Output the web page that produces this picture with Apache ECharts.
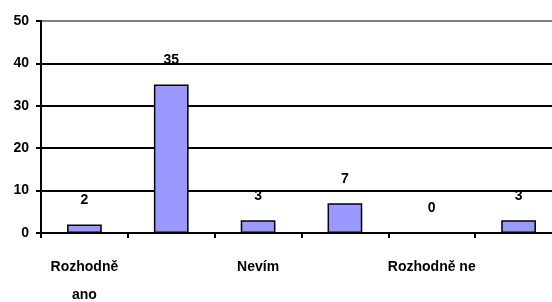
<!DOCTYPE html>
<html><head><meta charset="utf-8">
<script src="https://cdn.jsdelivr.net/npm/echarts@6/dist/echarts.min.js"></script>
<style>html,body{margin:0;padding:0;background:#fff}#c{width:552px;height:302px}</style>
</head><body><div id="c"></div>
<script>
const categories = ["Rozhodně\nano", "Spíše ano", "Nevím", "Spíše ne", "Rozhodně ne", "Neodpovědělo"];
const values = [2, 35, 3, 7, 0, 3];
const yTicks = {min: 0, max: 50, interval: 10};
const FONT = "'Liberation Sans', Arial, sans-serif";
const chart = echarts.init(document.getElementById('c'), null, {renderer: 'canvas'});
chart.setOption({
  animation: false,
  grid: {left: 41, right: -10, top: 21, bottom: 69, outerBoundsMode: 'none', containLabel: false},
  xAxis: {
    type: 'category', data: categories,
    axisLine: {lineStyle: {color: '#000', width: 2}},
    axisTick: {show: true, interval: 0, length: 5, lineStyle: {color: '#000', width: 2}},
    axisLabel: {interval: 1, color: '#000', fontFamily: FONT, fontWeight: 'bold', fontSize: 14, margin: 20, lineHeight: 28}
  },
  yAxis: {
    type: 'value', min: yTicks.min, max: yTicks.max, interval: yTicks.interval,
    axisLine: {show: true, lineStyle: {color: '#000', width: 2}},
    axisTick: {show: true, length: 5, lineStyle: {color: '#000', width: 2}},
    axisLabel: {color: '#000', fontFamily: FONT, fontWeight: 'bold', fontSize: 14, margin: 12},
    splitLine: {show: true, lineStyle: {color: ['#000', '#000', '#000', '#000', '#000', '#808080'], width: 2}}
  },
  series: [{
    type: 'bar', data: values, barWidth: '40%',
    itemStyle: {color: '#9999FF', borderColor: '#000', borderWidth: 1.5},
    label: {show: true, position: 'top', distance: 17, color: '#000', fontFamily: FONT, fontWeight: 'bold', fontSize: 14}
  }]
});
</script></body></html>
